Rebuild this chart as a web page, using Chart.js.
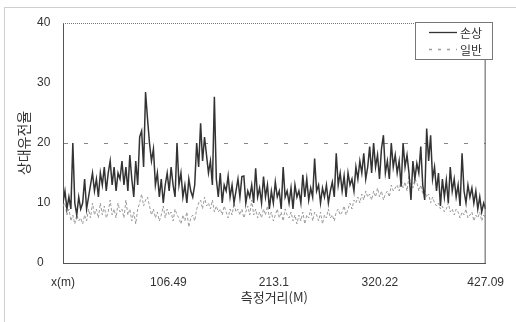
<!DOCTYPE html>
<html>
<head>
<meta charset="utf-8">
<script src="https://cdn.jsdelivr.net/npm/chart.js@4"></script>
<style>
  body { margin: 0; background: #fff; }
  #wrap { position: relative; width: 516px; height: 322px; }
  #frame {
    position: absolute; left: 4px; top: 7px; width: 520px; height: 330px;
    border-left: 1px solid #cfcfcf; border-top: 1px solid #cfcfcf;
  }
  #chart { position: absolute; left: 0; top: 0; }
</style>
</head>
<body>
<div id="wrap">
  <div id="frame"></div>
  <canvas id="chart" width="516" height="322"></canvas>
</div>
<script>
// 측정거리 축 눈금
const xTickValues = [0, 106.49, 213.1, 320.22, 427.09];
const xTickLabels = ["x(m)", "106.49", "213.1", "320.22", "427.09"];
const seriesNames = ["손상", "일반"];

// 손상 구간 상대유전율
const damaged = [
  10, 12, 9, 11, 9, 20, 10, 8, 11, 9,
  10, 14, 9, 11, 13, 15, 12, 14, 11, 15,
  13, 16, 12, 15, 17, 13, 16, 12, 15, 14,
  17, 13, 16, 12, 18, 14, 11, 17, 13, 21,
  22, 16, 28.5, 24, 20, 17, 19, 13, 15, 11,
  14, 10, 13, 15, 12, 16, 13, 11, 20, 13,
  15, 11, 13, 10, 14, 12, 11, 13, 20, 16,
  23.3, 17, 21, 18, 15, 17, 13, 27.7, 14, 11,
  15, 10, 13, 12, 14.5, 11, 13, 10, 12, 14,
  11, 14.4, 14.5, 10, 12, 11, 13, 10, 15.8, 11,
  12.5, 10, 14.4, 11, 13, 9, 12, 10, 13.5, 11,
  12, 9, 16, 11, 12, 10, 12.5, 9, 13, 11,
  12, 10, 14.7, 11, 14, 10.5, 12.5, 11, 17.4, 12,
  13, 10, 12.5, 11, 13, 10, 12, 13.5, 11, 18.3,
  13, 15, 12, 14.5, 11, 15, 13, 14, 12, 16,
  14, 17, 15, 18.3, 14, 16, 19.4, 15, 20, 16,
  18, 14, 19, 21.3, 15, 17, 14, 20, 16, 18,
  15, 17, 12.7, 20, 16, 18, 15, 10.5, 17, 14,
  16.6, 15, 19.4, 13, 10.5, 22.4, 17, 21.3, 14, 16,
  12, 15, 9.5, 14, 11, 13.8, 10, 16, 12, 14,
  11, 13, 9.5, 18.3, 12, 10, 13, 11, 12.5, 10,
  12, 9, 11, 8.5, 10, 9
];

// 일반 구간 상대유전율
const normal = [
  9.5, 10, 8, 9, 7, 8, 6.5, 8, 7, 7.5,
  6.5, 8, 7, 9, 7.5, 10, 8, 9, 7.5, 10,
  8, 9.5, 7.5, 8.5, 10.5, 8, 9, 7.5, 10, 8.5,
  9, 7.5, 10.5, 8, 9, 7, 8.5, 6.5, 9, 10,
  11.5, 9.5, 10.5, 11, 9.5, 8, 9, 7.5, 8.5, 7,
  8, 9.5, 7.5, 9, 8, 8.5, 7, 9, 8, 7.5,
  6.5, 8, 7, 8.5, 6, 7.5, 8, 7, 9, 10,
  10.5, 9, 11, 9.5, 10, 9, 10.5, 8.5, 9.5, 8.5,
  9, 8, 9.5, 8.5, 7.5, 9, 8, 10, 8.5, 9,
  8, 9, 7.5, 8.5, 9.5, 8, 10.5, 8, 9, 7.5,
  8.5, 7.5, 9, 8, 9.5, 7.5, 8.5, 7, 8, 9,
  7.5, 8.5, 7, 9, 8, 7.5, 8.5, 7, 8, 6.5,
  8, 7, 8.5, 6.5, 8, 7.5, 9, 7, 8.5, 8,
  7, 8.5, 6.5, 8, 7.5, 9, 7.5, 8, 7, 8.5,
  9, 8, 8.5, 9.5, 8, 9, 10, 9, 10.5, 10,
  11, 10, 11.5, 10.5, 12, 11, 11.5, 10.5, 12, 11,
  12.5, 11, 12, 10.5, 11.5, 12, 11, 13, 12, 12.5,
  13, 12, 14, 12.5, 13.5, 12, 14.5, 13, 12.5, 14,
  13.5, 12, 13, 11.5, 12, 11, 11.5, 10, 11, 10,
  9.5, 10, 9, 9.5, 8.5, 9, 10, 8.5, 9, 8,
  9, 8.5, 7.5, 8.5, 8, 9, 7.5, 8, 8.5, 7,
  8, 7.5, 8.5, 7, 8, 7.5
];

const xMax = xTickValues[xTickValues.length - 1];
const step = xMax / (damaged.length - 1);

function toPoints(arr) {
  return arr.map((v, i) => ({ x: i * step, y: v }));
}

Chart.defaults.font.family = '"Liberation Sans", "Noto Sans CJK KR", sans-serif';
Chart.defaults.color = "#333";

// 축 제목(세로), 그림 테두리, 범례 박스
const decorPlugin = {
  id: "decor",
  afterDraw(chart) {
    const ctx = chart.ctx;
    const a = chart.chartArea;
    ctx.save();

    // 위쪽 점선, 오른쪽 실선
    ctx.strokeStyle = "#777";
    ctx.lineWidth = 1;
    ctx.setLineDash([1, 1]);
    ctx.beginPath();
    ctx.moveTo(a.left, a.top + 0.5);
    ctx.lineTo(a.right, a.top + 0.5);
    ctx.stroke();
    ctx.setLineDash([]);
    ctx.strokeStyle = "#555";
    ctx.beginPath();
    ctx.moveTo(a.right - 0.5, a.top);
    ctx.lineTo(a.right - 0.5, a.bottom);
    ctx.stroke();

    // y축 제목
    ctx.fillStyle = "#333";
    ctx.font = '14px "Noto Sans CJK KR", sans-serif';
    ctx.textAlign = "center";
    ctx.textBaseline = "middle";
    ctx.translate(24, (a.top + a.bottom) / 2);
    ctx.rotate(-Math.PI / 2);
    ctx.fillText("상대유전율", 0, 0);
    ctx.setTransform(1, 0, 0, 1, 0, 0);

    // 범례
    const bx = 415.5, by = 22.5, bw = 77, bh = 37;
    ctx.fillStyle = "#fff";
    ctx.fillRect(bx, by, bw, bh);
    ctx.strokeStyle = "#777";
    ctx.strokeRect(bx, by, bw, bh);
    const rows = [32, 49];
    chart.data.datasets.forEach((ds, i) => {
      const y = rows[i] + 0.5;
      ctx.strokeStyle = ds.borderColor;
      ctx.lineWidth = 1.3;
      ctx.setLineDash(i === 1 ? [3, 6] : []);
      ctx.beginPath();
      ctx.moveTo(429, y);
      ctx.lineTo(457, y);
      ctx.stroke();
      ctx.setLineDash([]);
      ctx.fillStyle = "#333";
      ctx.font = '12px "Noto Sans CJK KR", sans-serif';
      ctx.textAlign = "left";
      ctx.fillText(ds.label, 460, rows[i] + 1);
    });
    ctx.restore();
  },
};

new Chart(document.getElementById("chart"), {
  type: "line",
  data: {
    datasets: [
      {
        label: seriesNames[0],
        data: toPoints(damaged),
        borderColor: "#333333",
        borderWidth: 1.5,
        pointRadius: 0,
        fill: false,
        order: 1,
      },
      {
        label: seriesNames[1],
        data: toPoints(normal),
        borderColor: "#9c9c9c",
        borderWidth: 1,
        borderDash: [3, 2],
        pointRadius: 0,
        fill: false,
        order: 2,
      },
    ],
  },
  options: {
    responsive: false,
    animation: false,
    devicePixelRatio: 1,
    layout: { padding: { left: 37, right: 22, top: 23, bottom: 0 } },
    plugins: {
      legend: { display: false },
      tooltip: { enabled: false },
    },
    scales: {
      x: {
        type: "linear",
        min: 0,
        max: xMax,
        afterBuildTicks: (scale) => {
          scale.ticks = xTickValues.map((v) => ({ value: v }));
        },
        afterFit: (scale) => {
          scale.height = 59;
        },
        ticks: {
          autoSkip: false,
          maxRotation: 0,
          padding: 12,
          font: { size: 12 },
          callback: (value, index) => xTickLabels[index],
        },
        grid: { display: false, drawTicks: false },
        border: { display: true, color: "#555", width: 1 },
        title: {
          display: true,
          text: "측정거리(M)",
          font: { size: 13, family: '"Noto Sans CJK KR", sans-serif' },
          padding: { top: 0, bottom: 17 },
        },
      },
      y: {
        min: 0,
        max: 40,
        afterFit: (scale) => {
          scale.width = 26;
        },
        ticks: {
          stepSize: 10,
          crossAlign: "far",
          font: { size: 12 },
        },
        grid: {
          drawTicks: false,
          color: (c) => (c.tick && c.tick.value === 20 ? "#888" : "rgba(0,0,0,0)"),
          lineWidth: 1,
        },
        border: { display: true, color: "#555", width: 1, dash: [4, 16] },
      },
    },
  },
  plugins: [decorPlugin],
});
</script>
</body>
</html>
